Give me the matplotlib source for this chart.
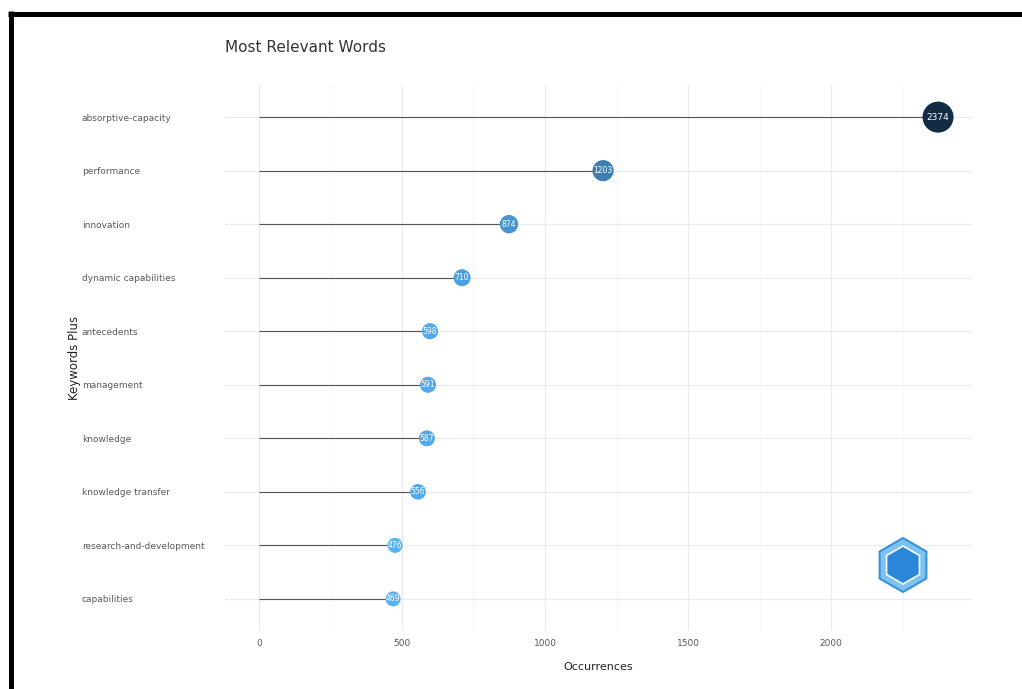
import numpy as np
import matplotlib
matplotlib.use("Agg")
import matplotlib.pyplot as plt
from matplotlib.colors import LinearSegmentedColormap, Normalize
from matplotlib.lines import Line2D
from matplotlib.patches import RegularPolygon

words = ["absorptive-capacity", "performance", "innovation", "dynamic capabilities",
         "antecedents", "management", "knowledge", "knowledge transfer",
         "research-and-development", "capabilities"]
occurrences = [2374, 1203, 874, 710, 598, 591, 587, 556, 476, 469]
x_ticks = [0, 500, 1000, 1500, 2000]

W, H = 1022, 689
fig = plt.figure(figsize=(W / 100, H / 100), dpi=100)
ax = fig.add_axes([225 / W, 1 - 631 / H, (972 - 225) / W, (631 - 85) / H])

vals = np.array(occurrences)
ypos = np.arange(len(words))
cmap = LinearSegmentedColormap.from_list("gg", ["#56B1F7", "#132B43"])
norm = Normalize(vals.min(), vals.max())
t = (vals - vals.min()) / (vals.max() - vals.min())
diam_px = 15 + t * 16
sizes = (diam_px * 0.72) ** 2

# grid
for v in x_ticks:
    ax.axvline(v, color="#ebebeb", lw=0.9, zorder=0)
for v in [250, 750, 1250, 1750, 2250]:
    ax.axvline(v, color="#f4f4f4", lw=0.5, zorder=0)
for y in ypos:
    ax.axhline(y, color="#ebebeb", lw=0.9, zorder=0)

ax.hlines(ypos, 0, vals, color="#555555", lw=0.8, zorder=1)
ax.scatter(vals, ypos, s=sizes, c=vals, cmap=cmap, norm=norm, zorder=2, linewidths=0)
for v, y, d in zip(vals, ypos, diam_px):
    ax.text(v, y, str(v), color="white", fontsize=6.5 if d > 22 else 5.5,
            ha="center", va="center", zorder=3)

ax.set_xlim(-0.05 * vals.max(), 1.05 * vals.max())
ax.set_ylim(len(words) - 0.4, -0.6)
ax.set_xticks(x_ticks)
ax.set_xticklabels([str(v) for v in x_ticks])
ax.set_yticks(ypos)
ax.set_yticklabels(words, ha="left")
ax.tick_params(axis="y", length=0, pad=103, labelsize=6.5, labelcolor="#5a5a5a")
ax.tick_params(axis="x", length=0, pad=6, labelsize=6.5, labelcolor="#5a5a5a")
for s in ax.spines.values():
    s.set_visible(False)

ax.set_xlabel("Occurrences", fontsize=8, color="#222222")
ax.xaxis.set_label_coords(0.5, -0.057)
ax.set_ylabel("Keywords Plus", fontsize=8.5, color="#222222")
ax.yaxis.set_label_coords((81 - 225) / 747, 0.5)
fig.text(225 / W, 1 - 47 / H, "Most Relevant Words", fontsize=11,
         color="#333333", ha="left", va="center")

# logo placeholder
cx, cy = 903, H - 565
fig.add_artist(RegularPolygon((cx, cy), 6, radius=27, transform=None,
                              facecolor="#7cc3f2", edgecolor="#3a92dc", lw=1.5))
fig.add_artist(RegularPolygon((cx, cy), 6, radius=19, transform=None,
                              facecolor="#2a86d8", edgecolor="white", lw=1.2))

# screenshot frame
fig.add_artist(Line2D([8 / W, 1], [1 - 13.5 / H] * 2, transform=fig.transFigure,
                      color="black", lw=3.6, solid_capstyle="butt"))
fig.add_artist(Line2D([10.5 / W] * 2, [0, 1 - 11 / H], transform=fig.transFigure,
                      color="black", lw=3.6, solid_capstyle="butt"))

fig.savefig("out.png", dpi=100, facecolor="white")
